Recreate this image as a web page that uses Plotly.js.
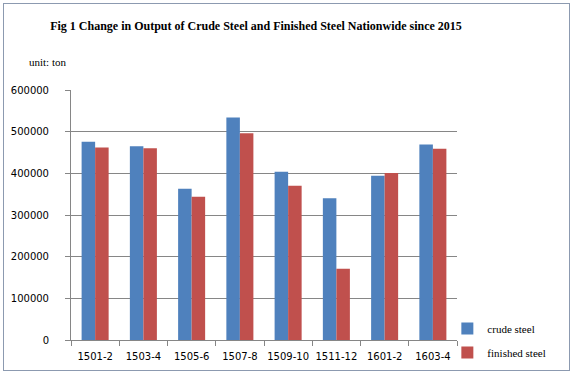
<!DOCTYPE html>
<html><head><meta charset="utf-8">
<script src="https://cdn.plot.ly/plotly-3.0.1.min.js"></script>
<style>
html,body{margin:0;padding:0;background:#fff;}
#wrap{position:absolute;left:0;top:0;width:574px;height:374px;}
#frame{position:absolute;left:3px;top:3px;width:565px;height:366px;border:1px solid #8c9ab0;pointer-events:none;}
</style></head>
<body>
<div id="wrap"><div id="chart" style="width:574px;height:374px;"></div><div id="frame"></div></div>
<script>
var categories = ["1501-2","1503-4","1505-6","1507-8","1509-10","1511-12","1601-2","1603-4"];
var crudeSteel = [476000, 465000, 363000, 534000, 404000, 340000, 394000, 469000];
var finishedSteel = [462000, 460000, 344000, 496000, 370000, 171000, 401000, 459000];
var yTicks = [0,100000,200000,300000,400000,500000,600000];

var traces = [
  {type:'bar', name:'crude steel', legendgroup:'a', x:categories, y:crudeSteel, marker:{color:'#4f81bd'}},
  {type:'bar', name:'finished steel', legendgroup:'b', x:categories, y:finishedSteel, marker:{color:'#c0504d'}}
];
var layout = {
  width:574, height:374,
  margin:{l:71, r:117, t:90, b:34, autoexpand:false},
  paper_bgcolor:'#fff', plot_bgcolor:'#fff',
  barmode:'group', bargap:0.44, bargroupgap:0,
  title:{text:'<b>Fig 1 Change in Output of Crude Steel and Finished Steel Nationwide since 2015</b>',
    font:{family:'Liberation Serif, serif', size:12, color:'#000'}, x:0.446, xanchor:'center', y:0.93, yanchor:'middle'},
  xaxis:{type:'category', tickson:'boundaries', ticks:'outside', ticklen:5, tickcolor:'#868686', tickangle:0,
    showline:true, linecolor:'#868686', showgrid:false, ticklabelstandoff:7, automargin:false,
    tickfont:{family:'DejaVu Sans, sans-serif', size:10, color:'#000'}},
  yaxis:{range:[0,600000], tickvals:yTicks, ticktext:yTicks.map(String), ticks:'outside', ticklen:5,
    tickcolor:'#868686', showline:true, linecolor:'#868686', gridcolor:'#868686', zeroline:false,
    ticklabelstandoff:14, automargin:false,
    tickfont:{family:'DejaVu Sans, sans-serif', size:10, color:'#000'}},
  legend:{x:0.975, xanchor:'left', y:-0.108, yanchor:'bottom', bgcolor:'rgba(0,0,0,0)',
    font:{family:'Liberation Serif, serif', size:11, color:'#000'}, itemwidth:30, tracegroupgap:5},
  annotations:[{text:'unit: ton', xref:'paper', yref:'paper', x:-0.115, y:1.11, xanchor:'left', yanchor:'middle',
    showarrow:false, font:{family:'Liberation Serif, serif', size:11, color:'#000'}}]
};
Plotly.newPlot('chart', traces, layout, {displayModeBar:false, staticPlot:true});
</script>
</body></html>
